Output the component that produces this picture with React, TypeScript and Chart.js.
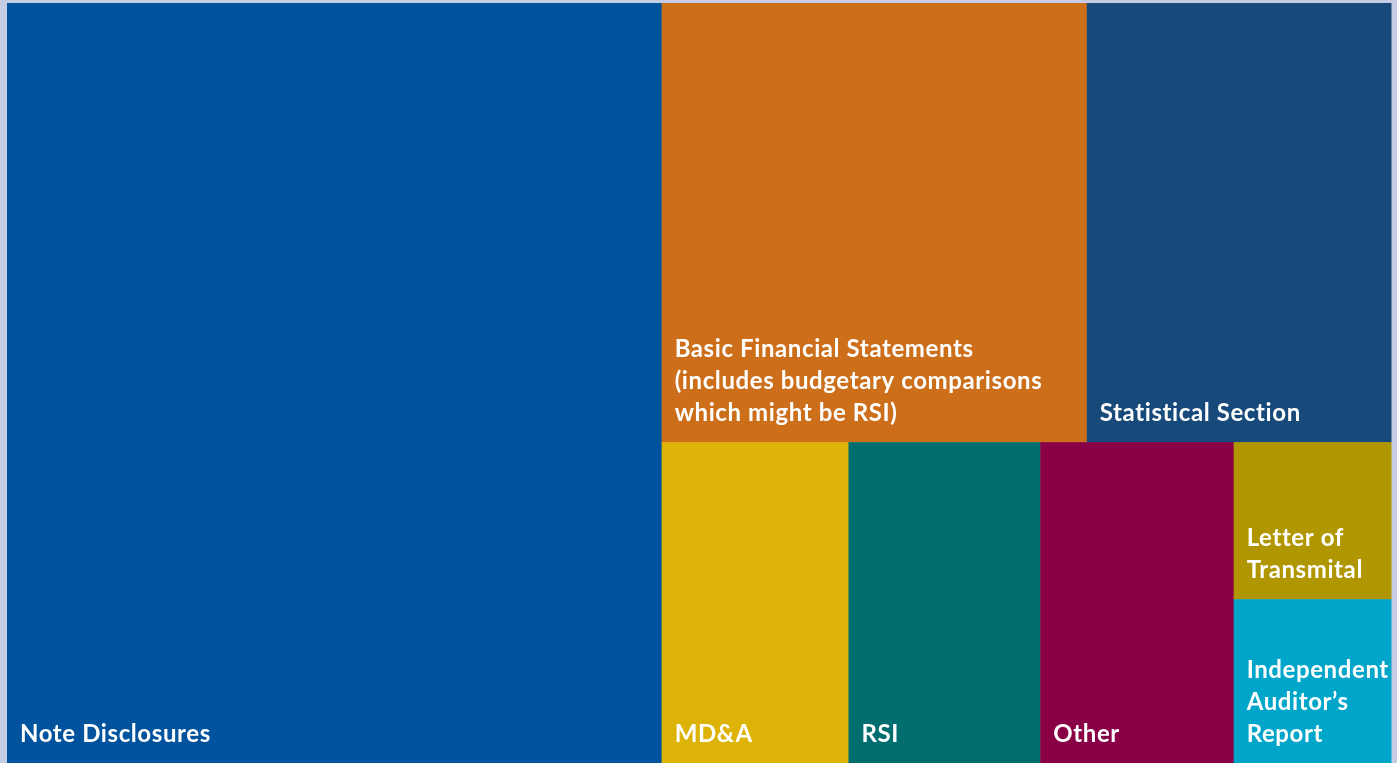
import React, { useEffect, useRef } from "react";
import { Chart, registerables } from "chart.js";

Chart.register(...registerables);

const categories = [
  "Note Disclosures",
  "Basic Financial Statements (includes budgetary comparisons which might be RSI)",
  "Statistical Section",
  "MD&A",
  "RSI",
  "Other",
  "Letter of Transmital",
  "Independent Auditor’s Report",
];

const labelLines = [
  ["Note Disclosures"],
  ["Basic Financial Statements", "(includes budgetary comparisons", "which might be RSI)"],
  ["Statistical Section"],
  ["MD&A"],
  ["RSI"],
  ["Other"],
  ["Letter of", "Transmital"],
  ["Independent", "Auditor’s", "Report"],
];

const values = [47.3, 17.75, 12.7, 5.7, 5.85, 5.9, 2.35, 2.45];

const colors = [
  "#00539C",
  "#CD6F1A",
  "#174A7B",
  "#DEB307",
  "#006E6E",
  "#8A0047",
  "#B09600",
  "#00A6C9",
];

type Rect = { x: number; y: number; w: number; h: number };

function worst(row: number[], s: number): number {
  const sum = row.reduce((a, b) => a + b, 0);
  let m = 0;
  for (const r of row) {
    const a = (s * s * r) / (sum * sum);
    const b = (sum * sum) / (s * s * r);
    m = Math.max(m, a, b);
  }
  return m;
}

function squarify(vals: number[], x0: number, y0: number, w0: number, h0: number): Rect[] {
  const total = vals.reduce((a, b) => a + b, 0);
  const areas = vals.map((v) => (v * w0 * h0) / total);
  const out: Rect[] = [];
  let x = x0, y = y0, w = w0, h = h0;
  let i = 0;
  while (i < areas.length) {
    const s = Math.min(w, h);
    const row: number[] = [areas[i]];
    let j = i + 1;
    while (j < areas.length) {
      const next = [...row, areas[j]];
      if (worst(next, s) <= worst(row, s)) {
        row.push(areas[j]);
        j++;
      } else break;
    }
    const sum = row.reduce((a, b) => a + b, 0);
    if (w >= h) {
      const rw = sum / h;
      let cy = y;
      for (const a of row) {
        const rh = a / rw;
        out.push({ x, y: cy, w: rw, h: rh });
        cy += rh;
      }
      x += rw;
      w -= rw;
    } else {
      const rh = sum / w;
      let cx = x;
      for (const a of row) {
        const rw = a / rh;
        out.push({ x: cx, y, w: rw, h: rh });
        cx += rw;
      }
      y += rh;
      h -= rh;
    }
    i = j;
  }
  return out;
}

const treemapPlugin = {
  id: "treemapCells",
  afterDatasetsDraw(chart: any) {
    const { ctx, scales } = chart;
    const xs = scales.x;
    const ys = scales.y;
    const left = xs.getPixelForValue(0);
    const right = xs.getPixelForValue(1);
    const top = ys.getPixelForValue(1);
    const bottom = ys.getPixelForValue(0);
    const rects = squarify(values, left, top, right - left, bottom - top);
    ctx.save();
    rects.forEach((r, k) => {
      ctx.fillStyle = colors[k];
      ctx.fillRect(r.x, r.y, r.w + 0.5, r.h + 0.5);
    });
    ctx.fillStyle = "#FFFFFF";
    ctx.font = "bold 24px Lato, 'Open Sans', sans-serif";
    try {
      (ctx as any).letterSpacing = "0.6px";
    } catch (e) {}
    ctx.textBaseline = "alphabetic";
    ctx.textAlign = "left";
    rects.forEach((r, k) => {
      const lines = labelLines[k];
      const n = lines.length;
      lines.forEach((ln, li) => {
        const by = r.y + r.h - 21 - (n - 1 - li) * 32;
        ctx.fillText(ln, r.x + 13, by);
      });
    });
    ctx.restore();
  },
};

export default function App() {
  const ref = useRef<HTMLCanvasElement | null>(null);
  useEffect(() => {
    document.body.style.margin = "0";
    if (!ref.current) return;
    const chart = new Chart(ref.current, {
      type: "scatter",
      data: {
        labels: categories,
        datasets: [{ label: "Sections", data: [], backgroundColor: colors }],
      },
      options: {
        animation: false,
        responsive: true,
        maintainAspectRatio: false,
        layout: { padding: { left: 7, top: 3, right: 6, bottom: 0 } },
        plugins: { legend: { display: false }, tooltip: { enabled: false } },
        scales: {
          x: { type: "linear", min: 0, max: 1, display: false },
          y: { type: "linear", min: 0, max: 1, display: false },
        },
      },
      plugins: [treemapPlugin],
    });
    return () => chart.destroy();
  }, []);
  return (
    <div style={{ width: 1397, height: 763, background: "#C6CCE3", position: "relative" }}>
      <canvas ref={ref} />
    </div>
  );
}
